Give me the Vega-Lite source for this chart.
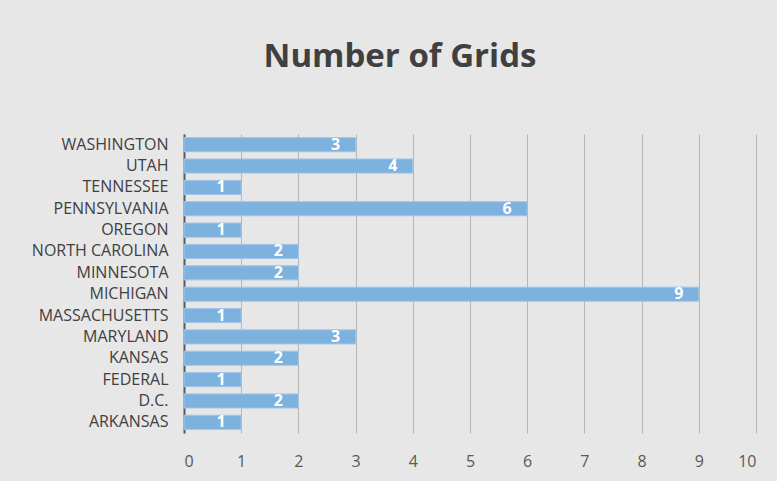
{
  "$schema": "https://vega.github.io/schema/vega-lite/v6.json",
  "width": 572,
  "height": 299,
  "autosize": "none",
  "padding": {"left": 184, "top": 134, "right": 21, "bottom": 48},
  "background": "#e7e7e7",
  "title": {
    "text": "Number of Grids",
    "font": "Open Sans",
    "fontSize": 33,
    "fontWeight": "bold",
    "color": "#404040",
    "anchor": "middle",
    "frame": "group",
    "dx": -70,
    "baseline": "alphabetic",
    "offset": 34
  },
  "config": {
    "view": {"stroke": null},
    "font": "Open Sans"
  },
  "data": {
    "values": [
      {"state": "WASHINGTON", "grids": 3},
      {"state": "UTAH", "grids": 4},
      {"state": "TENNESSEE", "grids": 1},
      {"state": "PENNSYLVANIA", "grids": 6},
      {"state": "OREGON", "grids": 1},
      {"state": "NORTH CAROLINA", "grids": 2},
      {"state": "MINNESOTA", "grids": 2},
      {"state": "MICHIGAN", "grids": 9},
      {"state": "MASSACHUSETTS", "grids": 1},
      {"state": "MARYLAND", "grids": 3},
      {"state": "KANSAS", "grids": 2},
      {"state": "FEDERAL", "grids": 1},
      {"state": "D.C.", "grids": 2},
      {"state": "ARKANSAS", "grids": 1}
    ]
  },
  "encoding": {
    "y": {
      "field": "state",
      "type": "nominal",
      "sort": null,
      "scale": {"paddingInner": 0.34, "paddingOuter": 0.17},
      "axis": {
        "title": null,
        "domain": true,
        "domainColor": "#595959",
        "domainWidth": 2,
        "ticks": false,
        "labelPadding": 16,
        "labelFontSize": 16,
        "labelColor": "#404040",
        "labelFont": "Open Sans",
        "grid": false
      }
    },
    "x": {
      "field": "grids",
      "type": "quantitative",
      "scale": {"domain": [0, 10], "nice": false},
      "axis": {
        "title": null,
        "values": [0, 1, 2, 3, 4, 5, 6, 7, 8, 9, 10],
        "labelOverlap": false,
        "grid": true,
        "gridColor": "#b5b5b5",
        "domain": false,
        "ticks": false,
        "labelPadding": 20,
        "labelFontSize": 16,
        "labelColor": "#595959",
        "labelFont": "Open Sans"
      }
    }
  },
  "layer": [
    {
      "mark": {"type": "bar", "fill": "#7DB1DE", "stroke": "#9FC6E9", "strokeWidth": 1}
    },
    {
      "mark": {
        "type": "text",
        "dx": -20,
        "align": "center",
        "baseline": "middle",
        "color": "white",
        "fontWeight": "bold",
        "fontSize": 16,
        "font": "Open Sans"
      },
      "encoding": {"text": {"field": "grids", "type": "quantitative"}}
    }
  ]
}
